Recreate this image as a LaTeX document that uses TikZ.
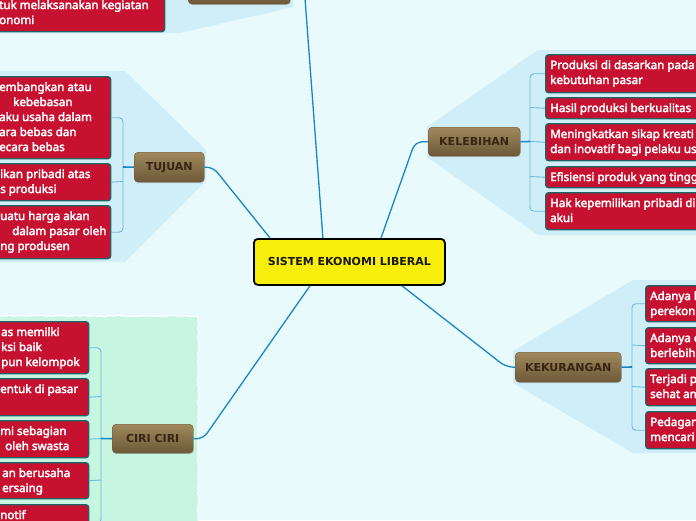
\documentclass[tikz,border=0pt]{standalone}
\usepackage{fontspec}
\setmainfont{Noto Sans}
\newfontfamily\leaffont{Noto Sans}[FakeBold=3]
\newfontfamily\topicfont{DejaVu Sans}
\usetikzlibrary{shadows,decorations.pathmorphing}
\definecolor{bg}{RGB}{232,250,251}
\definecolor{regblue}{RGB}{208,238,248}
\definecolor{reggreen}{RGB}{199,245,226}
\definecolor{leafred}{RGB}{198,18,48}
\definecolor{leafedge}{RGB}{30,100,100}
\definecolor{topictop}{RGB}{160,137,92}
\definecolor{topicbot}{RGB}{108,88,56}
\definecolor{topictext}{RGB}{58,36,18}
\definecolor{connblue}{RGB}{26,135,196}
\definecolor{brblue}{RGB}{110,185,222}
\definecolor{centyellow}{RGB}{247,238,12}
\tikzset{
  leafbox/.style={draw=leafedge, fill=leafred, line width=1.4pt, rounded corners=3pt, inner sep=0pt, anchor=north west},
  leaftext/.style={text=white, font=\leaffont\fontsize{11.6}{15}\selectfont, align=left, inner sep=0pt, anchor=base west},
  topic/.style={rounded corners=4pt, top color=topictop, bottom color=topicbot, draw=topicbot, line width=0.4pt,
    font=\topicfont\bfseries\fontsize{11}{13}\selectfont, text=topictext, inner sep=0pt, anchor=north west,
    drop shadow={shadow xshift=0.6pt, shadow yshift=-1pt, opacity=0.25}},
  central/.style={draw=black, line width=1.8pt, fill=centyellow, rounded corners=4pt, inner sep=0pt, anchor=north west,
    font=\topicfont\bfseries\fontsize{11}{13}\selectfont, text=black!90},
  conn/.style={draw=connblue, line width=1.3pt, rounded corners=7pt},
  br/.style={draw=brblue, line width=0.9pt, rounded corners=4pt},
  brmain/.style={draw=connblue, line width=1.6pt},
}
\newcommand\leafnode[5]{\node[leafbox, minimum width={#4-(#2)}, minimum height={#5-(#3)}] (#1) at (#2,#3) {};}
\begin{document}
\begin{tikzpicture}[x=1pt,y=-1pt]
\useasboundingbox (0,0) rectangle (696,520);
\clip (0,0) rectangle (696,520);
\fill[bg] (0,0) rectangle (696,520);
% regions
\fill[regblue] (-5,-60) -- (293,-60) -- (293,7) -- (180,33) -- (-5,33) -- cycle;
\fill[regblue] (-5,71) -- (125,71) -- (206,150) -- (206,181) -- (125,262) -- (-5,262) -- cycle;
\fill[regblue] (538,50) -- (700,50) -- (700,235) -- (538,235) -- (427,157) -- (427,127) -- cycle;
\fill[regblue] (633,280) -- (700,280) -- (700,453) -- (633,453) -- (513,383) -- (513,351) -- cycle;
\pgfmathsetseed{7}
\fill[reggreen] (-5,316) rectangle (198,525);
\draw[white, line width=1.2pt, decorate, decoration={random steps, segment length=3pt, amplitude=0.6pt}]
  (-5,316) -- (198,316) -- (198,525);
% center
\node[central, minimum width=191, minimum height=46] (cen) at (253,238) {SISTEM EKONOMI LIBERAL};
% topics
\node[topic, minimum width=102, minimum height=30] (top) at (188,-26) {};
\node[topic, minimum width=70, minimum height=30] (tuj) at (134,152) {TUJUAN};
\node[topic, minimum width=92, minimum height=29] (kel) at (428,127) {KELEBIHAN};
\node[topic, minimum width=106, minimum height=30] (kek) at (515,352) {KEKURANGAN};
\node[topic, minimum width=81, minimum height=29] (ciri) at (112,424) {CIRI CIRI};
% main connectors
\draw[conn] ([xshift=-26.5pt]cen.north) -- (304.3,-11) -- (top.east);
\draw[conn] ([xshift=17pt]cen.north west) -- (213,167) -- (tuj.east);
\draw[conn] ([xshift=128pt]cen.north west) -- (415,142) -- (kel.west);
\draw[conn] ([xshift=149pt]cen.south west) -- (506,367) -- (kek.west);
\draw[conn] ([xshift=57pt]cen.south west) -- (203,439) -- (ciri.east);
% top leaf
\leafnode{tp1}{-40}{-45}{164}{31}
\node[leaftext] (tp1t) at (-1,24) {tuk melaksanakan kegiatan\\onomi};
% TUJUAN leaves
\leafnode{tu1}{-40}{76}{110}{158}
\leafnode{tu2}{-40}{163}{110}{200}
\leafnode{tu3}{-40}{205}{110}{258}
\node[leaftext] (tu1t) at (-1,151) {embangkan atau\\\hspace*{14pt}kebebasan\\aku usaha dalam\\ara bebas dan\\ecara bebas};
\node[leaftext] (tu2t) at (0,193) {ikan pribadi atas\\s produksi};
\node[leaftext] (tu3t) at (0,250) {uatu harga akan\\\hspace*{12pt}dalam pasar oleh\\ng produsen};
\draw[br] (tu1.east) -| (123,181) |- (tu3.east);
\draw[br] (tu2.east) -- (123,181.5);
\draw[brmain] (tuj.west) -- (123,167);
% KELEBIHAN leaves
\leafnode{k1}{545}{54}{710}{92}
\leafnode{k2}{545}{97}{710}{118}
\leafnode{k3}{545}{123}{710}{160}
\leafnode{k4}{545}{166}{710}{187}
\leafnode{k5}{545}{192}{710}{229}
\node[leaftext] (k1t) at (550,84) {Produksi di dasarkan pada\\kebutuhan pasar};
\node[leaftext] (k2t) at (550,112) {Hasil produksi berkualitas};
\node[leaftext] (k3t) at (550,153) {Meningkatkan sikap kreati\\dan inovatif bagi pelaku us};
\node[leaftext] (k4t) at (550,181) {Efisiensi produk yang tingg};
\node[leaftext] (k5t) at (550,222) {Hak kepemilikan pribadi di\\akui};
\draw[br] (k1.west) -| (530,141) |- (k5.west);
\draw[br] (k2.west) -- (530,107.5);
\draw[br] (k3.west) -- (530,141.5);
\draw[br] (k4.west) -- (530,176.5);
\draw[brmain] (kel.east) -- (530,141.5);
% KEKURANGAN leaves
\leafnode{r1}{645}{285}{710}{321}
\leafnode{r2}{645}{327}{710}{363}
\leafnode{r3}{645}{368}{710}{405}
\leafnode{r4}{645}{411}{710}{448}
\node[leaftext] (r1t) at (650,315) {Adanya k\\perekon};
\node[leaftext] (r2t) at (650,357) {Adanya e\\berlebih};
\node[leaftext] (r3t) at (650,398) {Terjadi p\\sehat an};
\node[leaftext] (r4t) at (650,441) {Pedagan\\mencari};
\draw[br] (r1.west) -| (632,366) |- (r4.west);
\draw[br] (r2.west) -- (632,345);
\draw[br] (r3.west) -- (632,386.5);
\draw[brmain] (kek.east) -- (632,367);
% CIRI leaves
\leafnode{c1}{-40}{321}{88}{373}
\leafnode{c2}{-40}{378}{88}{415}
\leafnode{c3}{-40}{420}{88}{457}
\leafnode{c4}{-40}{462}{88}{498}
\leafnode{c5}{-40}{504}{88}{541}
\node[leaftext] (c1t) at (1,366) {as memilki\\ksi baik\\pun kelompok};
\node[leaftext] (c2t) at (0,393) {entuk di pasar};
\node[leaftext] (c3t) at (0,450) {mi sebagian\\\hspace*{5pt}oleh swasta};
\node[leaftext] (c4t) at (2,492) {an berusaha\\ersaing};
\node[leaftext] (c5t) at (0,519) {notif};
\draw[br] (c1.east) -| (101,440) |- (c5.east);
\draw[br] (c2.east) -- (101,396.5);
\draw[br] (c3.east) -- (101,438.5);
\draw[br] (c4.east) -- (101,480);
\draw[brmain] (ciri.west) -- (101,438.5);
\end{tikzpicture}
\end{document}
